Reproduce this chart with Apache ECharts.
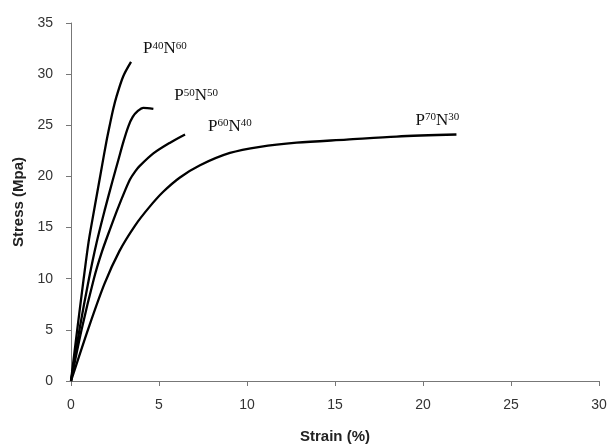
<!DOCTYPE html>
<html><head><meta charset="utf-8">
<script src="https://cdn.jsdelivr.net/npm/echarts@6/dist/echarts.min.js"></script>
<style>html,body{margin:0;padding:0;background:#fff}#c{width:609px;height:444px}</style>
</head><body><div id="c"></div>
<script>
const xTicks = [0, 5, 10, 15, 20, 25, 30];
const yTicks = [0, 5, 10, 15, 20, 25, 30, 35];
const seriesNames = ['P40N60', 'P50N50', 'P60N40', 'P70N30'];
const p40Strain = [0, 0.36, 0.72, 1.0, 1.23, 1.5, 1.78, 2.0, 2.2, 2.4, 2.6, 2.97, 3.41];
const p40Stress = [0, 5.1, 10, 13.6, 15.9, 18.5, 21.2, 23.3, 25.0, 26.6, 27.9, 29.8, 31.2];
const p50Strain = [0, 0.5, 1.02, 1.45, 1.93, 2.35, 2.69, 2.98, 3.26, 3.5, 3.8, 4.11, 4.68];
const p50Stress = [0, 5.2, 10, 13.5, 16.8, 19.5, 21.6, 23.4, 24.9, 25.8, 26.4, 26.7, 26.6];
const p60Strain = [0, 0.6, 1.3, 1.75, 2.25, 2.6, 2.97, 3.35, 3.65, 3.92, 4.68, 5.63, 6.48];
const p60Stress = [0, 5, 10, 12.6, 15, 16.6, 18.2, 19.7, 20.5, 21.05, 22.25, 23.3, 24.1];
const p70Strain = [0, 1.0, 1.9, 2.75, 3.64, 4.45, 5.24, 6.19, 7.33, 9.03, 10.74, 12.82, 15.66, 18.5, 21.9];
const p70Stress = [0, 5.2, 9.5, 12.7, 15.2, 17.0, 18.5, 19.9, 21.1, 22.3, 22.9, 23.3, 23.6, 23.9, 24.1];

const curves = [
  {x: p40Strain, y: p40Stress, sup: ['40', '60'], off: [12, -13]},
  {x: p50Strain, y: p50Stress, sup: ['50', '50'], off: [21, -13]},
  {x: p60Strain, y: p60Stress, sup: ['60', '40'], off: [23, -8]},
  {x: p70Strain, y: p70Stress, sup: ['70', '30'], off: [-41, -14]}
];

const chart = echarts.init(document.getElementById('c'), null, {renderer: 'canvas'});
chart.setOption({
  animation: false,
  backgroundColor: '#fff',
  grid: {left: 71, right: 10, top: 23, bottom: 63, containLabel: false, outerBoundsMode: 'none'},
  xAxis: {
    type: 'value', min: xTicks[0], max: xTicks[xTicks.length - 1], interval: 5,
    name: 'Strain (%)', nameLocation: 'middle', nameGap: 48,
    nameTextStyle: {fontFamily: 'Liberation Sans', fontWeight: 'bold', fontSize: 15, color: '#222'},
    axisLine: {lineStyle: {color: '#777', width: 1}},
    axisTick: {show: true, length: 5, lineStyle: {color: '#777'}},
    axisLabel: {fontFamily: 'Liberation Sans', fontSize: 14, color: '#333', margin: 17},
    splitLine: {show: false}
  },
  yAxis: {
    type: 'value', min: yTicks[0], max: yTicks[yTicks.length - 1], interval: 5,
    name: 'Stress (Mpa)', nameLocation: 'middle', nameGap: 43, nameRotate: 90,
    nameTextStyle: {fontFamily: 'Liberation Sans', fontWeight: 'bold', fontSize: 15, color: '#222'},
    axisLine: {show: true, lineStyle: {color: '#777', width: 1}},
    axisTick: {show: true, length: 5, lineStyle: {color: '#777'}},
    axisLabel: {fontFamily: 'Liberation Sans', fontSize: 14, color: '#333', margin: 18},
    splitLine: {show: false}
  },
  series: curves.map((c, i) => ({
    name: seriesNames[i],
    type: 'line',
    smooth: 0.3,
    showSymbol: false,
    symbol: 'none',
    lineStyle: {color: '#000', width: 2.3},
    data: c.x.map((v, k) => [v, c.y[k]]),
    endLabel: {
      show: true,
      distance: 0,
      offset: c.off,
      align: 'left',
      formatter: '{a|P}{b|' + c.sup[0] + '}{a|N}{b|' + c.sup[1] + '}',
      rich: {
        a: {fontFamily: 'Liberation Serif', fontSize: 17, color: '#111', verticalAlign: 'bottom'},
        b: {fontFamily: 'Liberation Serif', fontSize: 11, color: '#111', verticalAlign: 'top'}
      }
    }
  }))
});
</script></body></html>
